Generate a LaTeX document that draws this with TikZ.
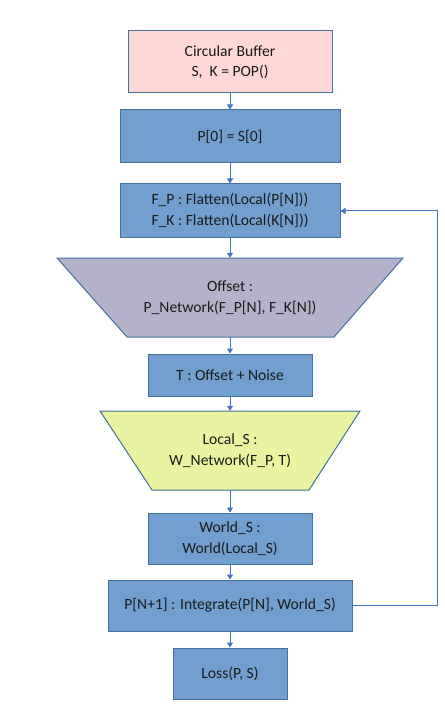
\documentclass[tikz,border=0pt]{standalone}
\usepackage{fontspec}
\setmainfont{Carlito}
\usetikzlibrary{arrows.meta}
\definecolor{boxfill}{HTML}{729FCF}
\definecolor{boxline}{HTML}{41719C}
\definecolor{pinkfill}{HTML}{FFD7D7}
\definecolor{purplefill}{HTML}{B4B2CA}
\definecolor{yellowfill}{HTML}{EAF4A0}
\definecolor{arrowcol}{HTML}{4472C4}
\definecolor{textcol}{HTML}{1A1A1A}
\begin{document}
\begin{tikzpicture}[x=1pt,y=-1pt,
  font=\fontsize{15.6}{20.5}\selectfont, text=textcol,
  box/.style={draw=boxline, line width=1pt, fill=boxfill, align=center, inner sep=0pt},
  ghost/.style={inner sep=0pt, align=center},
  conn/.style={draw=arrowcol, line width=1pt, -{Triangle[width=6pt,length=5pt]}}]
\useasboundingbox (0,0) rectangle (444,719);
% boxes
\node[box, fill=pinkfill, minimum width=204pt, minimum height=62pt] (cb) at (230,62) {Circular Buffer\\S,\ \ K = POP()};
\node[box, minimum width=220pt, minimum height=53pt] (p0) at (230,136.5) {P[0] = S[0]};
\node[box, minimum width=220pt, minimum height=53pt] (fp) at (230,210.5) {F\_P : Flatten(Local(P[N]))\\F\_K : Flatten(Local(K[N]))};
% offset trapezoid
\draw[draw=boxline, line width=1pt, fill=purplefill] (57,258) -- (403,258) -- (334,337) -- (127,337) -- cycle;
\node[ghost, minimum width=346pt, minimum height=79pt] (off) at (230,297.5) {Offset :\\P\_Network(F\_P[N], F\_K[N])};
\node[box, minimum width=164pt, minimum height=42pt] (t) at (230,375) {T : Offset + Noise};
% local_s trapezoid
\draw[draw=boxline, line width=1pt, fill=yellowfill] (100,411) -- (360,411) -- (309,490) -- (152,490) -- cycle;
\node[ghost, minimum width=260pt, minimum height=79pt] (ls) at (230,450.5) {Local\_S :\\W\_Network(F\_P, T)};
\node[box, minimum width=164pt, minimum height=51pt] (ws) at (230,538.5) {World\_S :\\World(Local\_S)};
\node[box, minimum width=244pt, minimum height=51pt] (pn) at (230,605.5) {P[N+1] : Integrate(P[N], World\_S)};
\node[box, minimum width=114pt, minimum height=51pt] (loss) at (230,673.5) {Loss(P, S)};
% connectors
\draw[conn] (cb) -- (p0);
\draw[conn] (p0) -- (fp);
\draw[conn] (fp) -- (off);
\draw[conn] (off) -- (t);
\draw[conn] (t) -- (ls);
\draw[conn] (ls) -- (ws);
\draw[conn] (ws) -- (pn);
\draw[conn] (pn) -- (loss);
\coordinate (fr) at (437,605.5);
\coordinate (fu) at (437,211);
\draw[conn] (pn.east) -- (fr) -- (fu) -- (fp.east |- fu);
\end{tikzpicture}
\end{document}
